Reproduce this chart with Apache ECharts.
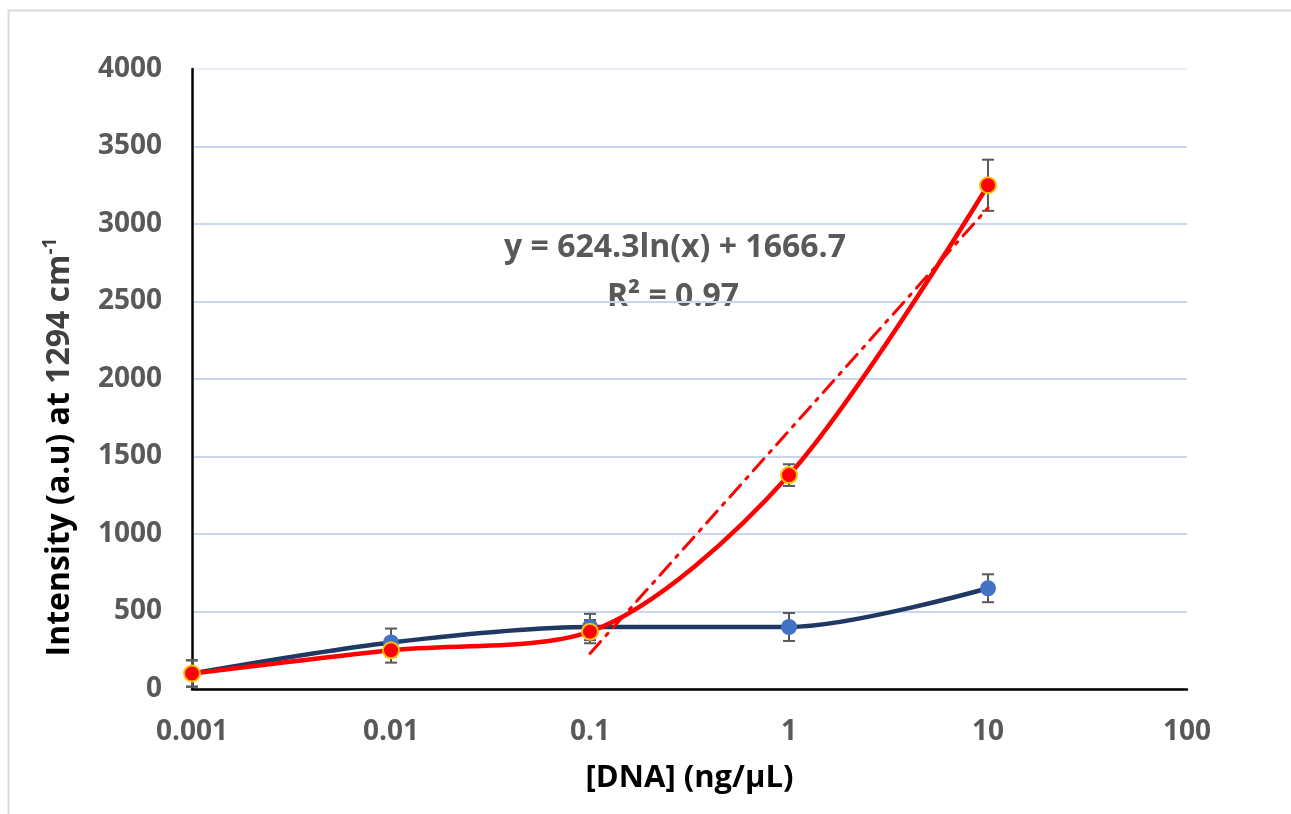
<!DOCTYPE html>
<html>
<head>
<meta charset="utf-8">
<script src="https://cdn.jsdelivr.net/npm/echarts@6/dist/echarts.min.js"></script>
<style>
html,body{margin:0;padding:0;background:#fff;}
#chart{width:1291px;height:814px;}
</style>
</head>
<body>
<div id="chart"></div>
<script>
// ---- data ----
const concentrations = [0.001, 0.01, 0.1, 1, 10];
const blueValues = [100, 300, 400, 400, 650];
const blueErrors = [85, 90, 85, 90, 90];
const redValues = [100, 250, 370, 1380, 3250];
const redErrors = [85, 80, 75, 70, 165];
const trendX = [0.1, 10];
const trendY = [229, 3104];
const xTickLabels = ['0.001', '0.01', '0.1', '1', '10', '100'];
const yTicks = [0, 500, 1000, 1500, 2000, 2500, 3000, 3500, 4000];
const equationText = 'y = 624.3ln(x) + 1666.7';
const r2Text = 'R² = 0.97';

const FONT = '"Open Sans", "Noto Sans", sans-serif';
const GRAY = '#595959';

function pairs(xs, ys) { return xs.map((x, i) => [x, ys[i]]); }
function errData(xs, ys, es) { return xs.map((x, i) => [x, ys[i] - es[i], ys[i] + es[i]]); }

function errorSeries(data) {
  return {
    type: 'custom',
    z: 1,
    silent: true,
    data: data,
    encode: { x: 0, y: [1, 2] },
    renderItem: function (params, api) {
      const x = api.value(0);
      const lo = api.coord([x, api.value(1)]);
      const hi = api.coord([x, api.value(2)]);
      const hw = 6;
      const st = { stroke: GRAY, lineWidth: 2 };
      return {
        type: 'group',
        children: [
          { type: 'line', shape: { x1: lo[0], y1: lo[1], x2: hi[0], y2: hi[1] }, style: st },
          { type: 'line', shape: { x1: lo[0] - hw, y1: lo[1], x2: lo[0] + hw, y2: lo[1] }, style: st },
          { type: 'line', shape: { x1: hi[0] - hw, y1: hi[1], x2: hi[0] + hw, y2: hi[1] }, style: st }
        ]
      };
    }
  };
}

const chart = echarts.init(document.getElementById('chart'));
const gridColors = yTicks.map((v, i) => i === yTicks.length - 1 ? '#ececf6' : '#c9d6ec');

chart.setOption({
  animation: false,
  backgroundColor: '#fff',
  grid: { left: 192, right: 104, top: 69, bottom: 125, containLabel: false },
  xAxis: {
    type: 'log',
    logBase: 10,
    min: 0.001,
    max: 100,
    axisLine: { show: true, lineStyle: { color: '#000', width: 2.5 } },
    axisTick: { show: false },
    splitLine: { show: false },
    axisLabel: {
      margin: 29,
      color: GRAY,
      fontFamily: FONT,
      fontWeight: 'bold',
      fontSize: 28,
      formatter: function (v) {
        const idx = Math.round(Math.log10(v)) + 3;
        return xTickLabels[idx] !== undefined ? xTickLabels[idx] : '';
      }
    },
    name: '[DNA] (ng/µL)',
    nameLocation: 'middle',
    nameGap: 74,
    nameTextStyle: { color: '#000', fontFamily: FONT, fontWeight: 'bold', fontSize: 31 }
  },
  yAxis: {
    type: 'value',
    min: yTicks[0],
    max: yTicks[yTicks.length - 1],
    interval: 500,
    axisLine: { show: true, lineStyle: { color: '#000', width: 2.5 } },
    axisTick: { show: false },
    splitLine: { show: true, lineStyle: { color: gridColors, width: 2 } },
    axisLabel: {
      margin: 30,
      color: GRAY,
      fontFamily: FONT,
      fontWeight: 'bold',
      fontSize: 28,
      formatter: function (v) { return String(v); }
    }
  },
  graphic: [
    {
      type: 'rect',
      left: 6, top: 8,
      shape: { width: 1284, height: 830 },
      style: { fill: 'none', stroke: '#d9d9d9', lineWidth: 2 },
      z: -10
    },
    {
      type: 'text',
      x: 60, y: 447,
      rotation: Math.PI / 2,
      style: {
        text: '{a|Intensity (a.u) at }{b|1294 cm}{s|-1}',
        align: 'center',
        verticalAlign: 'middle',
        rich: {
          a: { fontFamily: FONT, fontWeight: 'bold', fontSize: 32, fill: '#000', lineHeight: 38 },
          b: { fontFamily: FONT, fontWeight: 'bold', fontSize: 32, fill: '#404040', lineHeight: 38 },
          s: { fontFamily: FONT, fontWeight: 'bold', fontSize: 19, fill: '#404040', verticalAlign: 'top', lineHeight: 38, padding: [0, 0, 12, 0] }
        }
      }
    },
    {
      type: 'text',
      x: 675, y: 248,
      style: { text: equationText, align: 'center', verticalAlign: 'middle', fontFamily: FONT, fontWeight: 'bold', fontSize: 32, fill: GRAY }
    },
    {
      type: 'text',
      x: 673, y: 297,
      style: { text: r2Text, align: 'center', verticalAlign: 'middle', fontFamily: FONT, fontWeight: 'bold', fontSize: 32, fill: GRAY }
    }
  ],
  series: [
    errorSeries(errData(concentrations, blueValues, blueErrors)),
    errorSeries(errData(concentrations, redValues, redErrors)),
    {
      type: 'line',
      z: 3,
      data: pairs(concentrations, blueValues),
      smooth: 0.3,
      symbol: 'circle',
      symbolSize: 16,
      lineStyle: { color: '#1f3864', width: 4.5 },
      itemStyle: { color: '#4472c4' }
    },
    {
      type: 'line',
      z: 4,
      data: pairs(trendX, trendY),
      symbol: 'none',
      lineStyle: { color: '#ff0000', width: 3, type: [16, 8, 3, 8], cap: 'round' }
    },
    {
      type: 'line',
      z: 5,
      data: pairs(concentrations, redValues),
      smooth: 0.3,
      symbol: 'circle',
      symbolSize: 16,
      lineStyle: { color: '#ff0000', width: 4.5 },
      itemStyle: { color: '#ff0000', borderColor: '#ffc000', borderWidth: 2 }
    }
  ]
});
</script>
</body>
</html>
